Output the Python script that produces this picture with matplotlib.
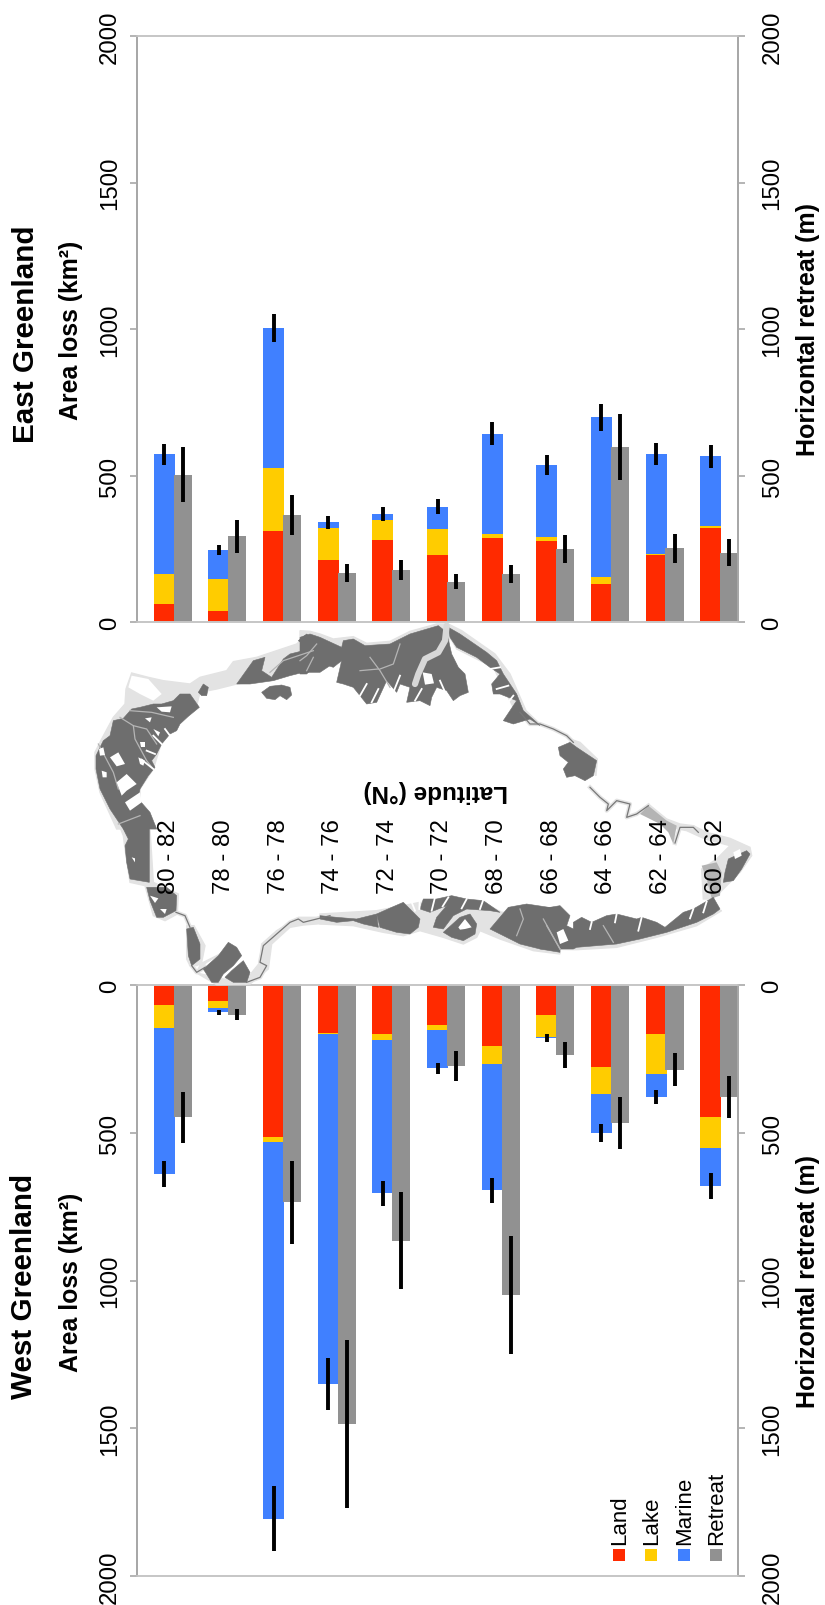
import matplotlib
matplotlib.use("Agg")
import matplotlib.pyplot as plt
from matplotlib.patches import Polygon, Rectangle

plt.rcParams['font.family'] = ['Liberation Sans', 'DejaVu Sans']

# bandas de latitud, de izquierda a derecha
latitudes = ['80 - 82', '78 - 80', '76 - 78', '74 - 76', '72 - 74', '70 - 72',
             '68 - 70', '66 - 68', '64 - 66', '62 - 64', '60 - 62']

# East Greenland
east_land = [61, 36, 311, 212, 280, 228, 286, 276, 131, 230, 320]
east_lake = [103, 112, 213, 108, 68, 91, 15, 14, 24, 3, 9]
east_marine = [408, 97, 479, 20, 22, 74, 341, 246, 543, 341, 236]
east_retreat = [503, 292, 365, 167, 178, 138, 164, 249, 596, 251, 237]
east_area_err = [35, 18, 48, 21, 24, 26, 39, 33, 45, 37, 40]
east_retreat_err = [95, 55, 68, 32, 34, 26, 30, 47, 113, 49, 45]

# West Greenland
west_land = [67, 53, 514, 162, 165, 134, 207, 100, 276, 165, 447]
west_lake = [77, 25, 16, 5, 22, 17, 61, 76, 94, 136, 106]
west_marine = [495, 14, 1276, 1183, 518, 131, 427, 3, 131, 77, 127]
west_retreat = [448, 100, 736, 1485, 865, 274, 1050, 237, 468, 286, 380]
west_area_err = [43, 8, 111, 87, 42, 18, 42, 13, 30, 24, 43]
west_retreat_err = [86, 20, 140, 285, 165, 52, 200, 45, 88, 55, 71]

y_ticks = [0, 500, 1000, 1500, 2000]
legend_names = ['Land', 'Lake', 'Marine', 'Retreat']
colores = ['#FF2A00', '#FFCC00', '#4080FF', '#919191']
gris_eje = '#A8A8A8'
gris_claro = '#C6C6C6'
DARK = '#6E6E6E'
LIGHT = '#E3E3E3'


# el mapa esta dibujado a mano, en coordenadas de recorte
def pts(x0, y0, lista):
    return [(x0 + a / 3, y0 + b / 3) for a, b in lista]


halo = [
    pts(90, 630, [(15, 370), (35, 330), (70, 265), (105, 225), (108, 180), (125, 132), (175, 145), (220, 155),
                  (300, 165), (330, 145), (410, 125), (430, 98), (500, 85), (620, 45), (660, 8), (720, 30),
                  (720, 100), (600, 125), (540, 150), (440, 165), (380, 180), (330, 190), (320, 230), (265, 280),
                  (215, 340), (190, 420), (150, 480), (150, 520), (200, 600), (80, 600), (30, 490), (15, 420)]),
    pts(300, 625, [(0, 20), (30, 22), (60, 30), (100, 45), (125, 42), (160, 38), (200, 58), (270, 52), (330, 22),
                   (410, 0), (445, 0), (485, 20), (585, 90), (630, 150), (678, 260), (720, 300), (690, 295),
                   (640, 250), (580, 130), (470, 75), (450, 40), (440, 100), (300, 100), (150, 120), (0, 100)]),
    pts(90, 820, [(80, 0), (178, 0), (190, 190), (265, 225), (262, 285), (225, 305), (190, 290), (165, 200),
                  (120, 190), (105, 90), (100, 50)]),
    pts(90, 820, [(290, 320), (312, 320), (345, 380), (335, 430), (320, 458), (350, 430), (400, 400), (320, 440),
                  (300, 440), (290, 420)]),
    pts(90, 820, [(510, 430), (515, 375), (560, 335), (625, 295), (680, 295), (720, 285), (720, 312), (640, 318),
                  (600, 325), (545, 375), (535, 450), (480, 495), (380, 497), (320, 462), (400, 480), (470, 480)]),
    pts(320, 870, [(0, 135), (170, 125), (250, 110), (300, 100), (490, 100), (545, 130), (560, 130), (720, 130),
                   (720, 255), (640, 245), (540, 210), (480, 185), (470, 205), (430, 225), (370, 205), (300, 185),
                   (250, 200), (190, 190), (100, 170), (0, 165)]),
    pts(540, 830, [(0, 300), (100, 300), (230, 300), (380, 300), (520, 240), (545, 245), (470, 290),
                   (350, 325), (230, 355), (110, 362), (0, 360)]),
    pts(520, 700, [(150, 120), (180, 130), (232, 180), (228, 230), (200, 200), (150, 150)]),
    pts(520, 700, [(385, 315), (440, 360), (480, 375), (520, 380), (560, 400), (630, 418), (690, 445),
                   (695, 470), (660, 520), (620, 560), (590, 590), (575, 600), (550, 600), (545, 510), (590, 480),
                   (630, 440), (555, 420), (500, 395), (450, 385), (385, 345)]),
]

gris_medio = [
    pts(520, 700, [(360, 345), (385, 320), (440, 365), (470, 380), (460, 435), (445, 400), (420, 375)]),
    pts(520, 700, [(545, 500), (590, 490), (605, 520), (600, 590), (575, 598), (560, 540)]),
]

oscuro = [
    # noroeste
    pts(90, 630, [(18, 380), (40, 335), (60, 320), (70, 275), (100, 268), (125, 240), (150, 235), (190, 225),
                  (215, 225), (250, 215), (270, 195), (300, 195), (328, 235), (295, 262), (270, 285), (260, 305),
                  (240, 315), (215, 345), (200, 375), (185, 395), (195, 415), (175, 440), (150, 480), (145, 510),
                  (180, 550), (200, 600), (100, 600), (60, 540), (30, 480), (18, 420)]),
    pts(90, 630, [(325, 190), (340, 165), (355, 175), (350, 200), (335, 200)]),
    pts(90, 630, [(515, 190), (540, 172), (575, 168), (600, 175), (605, 198), (590, 212), (570, 200), (555, 212),
                  (530, 208)]),
    pts(90, 630, [(440, 165), (490, 95), (525, 85), (515, 125), (545, 145), (580, 90), (600, 75), (660, 60),
                  (720, 40), (720, 110), (690, 130), (640, 130), (600, 140), (550, 155), (480, 165)]),
    pts(90, 630, [(625, 35), (650, 15), (665, 30), (645, 50)]),
    # norte
    pts(300, 625, [(0, 40), (30, 30), (60, 40), (125, 70), (130, 50), (160, 45), (195, 65), (270, 60), (330, 30),
                   (415, 5), (440, 25), (455, 90), (475, 130), (495, 150), (505, 205), (480, 215), (460, 230),
                   (440, 200), (410, 190), (395, 220), (390, 245), (360, 230), (320, 235), (330, 190), (300, 180),
                   (290, 205), (260, 170), (230, 235), (200, 240), (160, 190), (130, 180), (110, 175), (125, 110),
                   (100, 130), (70, 120), (45, 125), (20, 150), (0, 150)]),
    pts(300, 625, [(445, 10), (480, 30), (560, 85), (590, 110), (610, 150), (650, 210), (670, 260), (710, 295),
                   (720, 305), (690, 285), (640, 300), (610, 290), (630, 260), (650, 230), (600, 210), (580, 210),
                   (575, 180), (600, 150), (570, 130), (530, 100), (470, 70), (450, 40)]),
    # este
    pts(520, 700, [(115, 145), (150, 130), (170, 145), (230, 185), (220, 230), (195, 245), (165, 230), (140, 235),
                   (130, 210), (145, 190), (120, 170)]),
    pts(520, 700, [(625, 480), (680, 455), (690, 465), (665, 510), (640, 545), (610, 550), (615, 520)]),
    # oeste
    pts(90, 820, [(100, 0), (178, 0), (178, 190), (120, 180), (110, 130), (105, 80), (115, 60), (100, 30)]),
    pts(90, 820, [(170, 205), (230, 205), (260, 230), (258, 275), (220, 295), (200, 295), (180, 245)]),
    pts(90, 820, [(290, 330), (310, 325), (330, 375), (330, 420), (305, 440), (295, 410)]),
    pts(90, 820, [(340, 450), (385, 410), (415, 370), (440, 385), (455, 410), (430, 440), (400, 465), (385, 490),
                  (365, 490)]),
    pts(90, 820, [(405, 475), (425, 455), (460, 425), (480, 460), (470, 490), (430, 490)]),
    pts(320, 870, [(0, 140), (50, 145), (110, 150), (170, 135), (175, 175), (130, 165), (100, 155), (50, 160),
                   (0, 150)]),
    pts(320, 870, [(170, 135), (215, 115), (250, 100), (280, 130), (300, 150), (295, 175), (270, 195), (230, 190),
                   (180, 175)]),
    pts(320, 870, [(300, 120), (310, 90), (350, 90), (395, 80), (440, 90), (490, 95), (540, 130), (510, 125),
                   (440, 120), (400, 140), (370, 180), (340, 175), (350, 145), (380, 110), (330, 130)]),
    pts(320, 870, [(370, 190), (420, 145), (450, 135), (470, 165), (465, 195), (430, 215), (395, 205)]),
    pts(320, 870, [(510, 180), (565, 115), (620, 105), (720, 120), (720, 250), (660, 240), (600, 225), (540, 195)]),
    pts(540, 830, [(0, 240), (60, 230), (90, 260), (80, 290), (100, 300), (100, 280), (125, 265), (155, 280),
                   (200, 260), (230, 255), (290, 270), (305, 265), (350, 280), (375, 295), (430, 250), (460, 240),
                   (520, 205), (540, 240), (520, 255), (470, 280), (380, 310), (300, 330), (230, 345), (110, 355),
                   (100, 360), (0, 360)]),
]

blanco = [
    pts(90, 630, [(125, 140), (175, 150), (215, 195), (190, 215), (150, 195), (115, 175)]),
    pts(90, 630, [(200, 235), (245, 232), (240, 250), (215, 248)]),
    pts(90, 630, [(165, 268), (185, 265), (180, 280)]),
    pts(90, 630, [(150, 340), (165, 340), (165, 355), (152, 355)]),
    pts(90, 630, [(60, 385), (85, 370), (105, 405), (80, 412)]),
    pts(90, 630, [(27, 360), (40, 355), (45, 378), (30, 380)]),
    pts(90, 630, [(35, 425), (50, 430), (50, 445), (38, 445)]),
    pts(90, 630, [(80, 460), (110, 435), (140, 465), (110, 485), (95, 500)]),
    pts(90, 630, [(145, 385), (165, 395), (160, 410), (150, 405)]),
    pts(90, 630, [(190, 300), (210, 310), (205, 322)]),
    pts(90, 630, [(105, 520), (150, 490), (155, 520), (120, 545)]),
    pts(300, 625, [(368, 145), (395, 150), (402, 178), (375, 182)]),
    pts(320, 870, [(415, 175), (435, 150), (455, 175), (435, 180), (420, 182)]),
    pts(540, 830, [(50, 310), (70, 300), (85, 335), (60, 345)]),
    pts(520, 700, [(640, 460), (660, 450), (665, 470), (645, 480)]),
    pts(90, 820, [(125, 115), (135, 118), (135, 130)]),
    pts(90, 820, [(210, 270), (230, 270), (225, 285)]),
    pts(90, 820, [(180, 230), (205, 238), (195, 252)]),
]

# entradas de los fiordos, en blanco
fiordos = [
    pts(90, 630, [(240, 320), (225, 300)]), pts(90, 630, [(215, 345), (190, 320)]),
    pts(90, 630, [(195, 375), (170, 365)]), pts(90, 630, [(190, 420), (155, 392)]),
    pts(300, 625, [(215, 235), (235, 195)]), pts(300, 625, [(180, 215), (200, 180)]),
    pts(300, 625, [(345, 230), (365, 195)]), pts(300, 625, [(280, 205), (300, 155)]),
    pts(300, 625, [(440, 215), (420, 170)]), pts(300, 625, [(620, 240), (640, 215)]),
    pts(300, 625, [(590, 195), (625, 185)]), pts(300, 625, [(570, 135), (600, 130)]),
    pts(320, 870, [(265, 75), (285, 125)]), pts(320, 870, [(300, 75), (298, 120)]),
    pts(320, 870, [(345, 85), (335, 125)]), pts(320, 870, [(385, 85), (368, 112)]),
    pts(320, 870, [(440, 90), (425, 118)]), pts(320, 870, [(490, 92), (480, 120)]),
    pts(540, 830, [(230, 255), (225, 280)]), pts(540, 830, [(305, 265), (295, 305)]),
    pts(540, 830, [(460, 240), (450, 268)]), pts(540, 830, [(155, 280), (150, 300)]),
    pts(540, 830, [(500, 218), (490, 250)]),
]

canales = [
    pts(90, 630, [(90, 265), (130, 290), (170, 300), (200, 345)]),
    pts(90, 630, [(130, 290), (135, 330), (170, 395), (190, 420)]),
    pts(90, 630, [(120, 245), (185, 250), (250, 265)]),
    pts(90, 630, [(25, 345), (70, 430), (85, 480)]),
    pts(90, 630, [(85, 585), (150, 560)]),
    pts(90, 630, [(540, 130), (580, 95), (670, 65)]),
    pts(90, 630, [(650, 125), (670, 85)]),
    pts(300, 625, [(210, 100), (240, 140), (270, 190)]),
    pts(300, 625, [(300, 60), (280, 120), (240, 135)]),
    pts(300, 625, [(50, 60), (20, 95), (0, 110)]),
    pts(300, 625, [(180, 140), (235, 135)]),
    pts(320, 870, [(600, 120), (610, 150), (590, 200)]),
    pts(320, 870, [(670, 150), (720, 240)]),
    pts(540, 830, [(190, 290), (220, 340)]),
    pts(540, 830, [(20, 290), (60, 360)]),
]
canal_ancho = pts(300, 625, [(440, 5), (435, 50), (415, 85), (375, 105), (355, 150), (345, 180)])

costa = [
    pts(520, 700, [(0, 40), (30, 75), (60, 75), (100, 90), (140, 110), (160, 130)]),
    pts(520, 700, [(210, 265), (240, 295), (265, 315), (260, 335), (290, 305), (330, 315), (320, 355), (350, 345),
                   (385, 320)]),
    pts(520, 700, [(465, 432), (480, 385), (520, 385), (535, 400)]),
    pts(90, 820, [(258, 280), (285, 290), (300, 325)]),
    pts(90, 820, [(470, 490), (510, 475), (530, 440), (510, 430), (520, 380), (560, 345), (600, 310), (625, 300),
                  (640, 310), (680, 300), (720, 290)]),
    pts(90, 820, [(305, 440), (320, 460), (345, 445)]),
]

fig = plt.figure(figsize=(8.25, 16.06), dpi=100)
W, H = 825.0, 1606.0


def hacer_panel(top, bottom, invertido, land, lake, marine, retreat, area_err, retreat_err):
    ax = fig.add_axes([137 / W, 1 - bottom / H, (738 - 137) / W, (bottom - top) / H])
    x = list(range(len(latitudes)))
    x2 = [i + 0.338 for i in x]
    base_marine = [a + b for a, b in zip(land, lake)]
    total = [a + b for a, b in zip(base_marine, marine)]
    ax.bar(x, land, 0.385, color=colores[0], zorder=2)
    ax.bar(x, lake, 0.385, bottom=land, color=colores[1], zorder=2)
    ax.bar(x, marine, 0.385, bottom=base_marine, color=colores[2], zorder=2)
    ax.bar(x2, retreat, 0.33, color=colores[3], zorder=2)
    ax.errorbar(x, total, yerr=area_err, fmt='none', ecolor='black', elinewidth=2.8, zorder=3)
    ax.errorbar(x2, retreat, yerr=retreat_err, fmt='none', ecolor='black', elinewidth=2.8, zorder=3)
    ax.set_xlim(-0.5, 10.5)
    limites = (2000, 0) if invertido else (0, 2000)
    ax.set_ylim(*limites)
    ax.set_xticks([])
    ax.set_yticks(y_ticks)

    # eje derecho aparte, con otra separacion de las etiquetas
    ax2 = ax.twinx()
    ax2.set_ylim(*limites)
    ax2.set_yticks(y_ticks)
    for a, pad in ((ax, 6.5), (ax2, 12)):
        a.spines['left'].set_color(gris_eje)
        a.spines['right'].set_color(gris_eje)
        a.spines['left'].set_linewidth(1.3)
        a.spines['right'].set_linewidth(1.3)
        a.spines['top'].set_color(gris_claro)
        a.spines['bottom'].set_color(gris_claro)
        a.spines['top'].set_linewidth(1.2)
        a.spines['bottom'].set_linewidth(1.2)
        a.tick_params(axis='y', length=5, width=1.2, color=gris_eje, labelsize=17.3, pad=pad,
                      labelrotation=90)
        for t in a.get_yticklabels():
            t.set_verticalalignment('center')
    return ax


ax_e = hacer_panel(37, 623, False, east_land, east_lake, east_marine, east_retreat, east_area_err, east_retreat_err)
ax_w = hacer_panel(986, 1577, True, west_land, west_lake, west_marine, west_retreat, west_area_err, west_retreat_err)

# capa en pixeles para el mapa, la leyenda y los titulos
over = fig.add_axes([0, 0, 1, 1], zorder=5)
over.set_xlim(0, W)
over.set_ylim(H, 0)
over.axis('off')
over.patch.set_alpha(0)

for p in halo:
    over.add_patch(Polygon(p, closed=True, fc=LIGHT, ec=LIGHT, lw=1, zorder=1))
for p in gris_medio:
    over.add_patch(Polygon(p, closed=True, fc='#B4B4B4', ec='none', zorder=1.5))
for p in oscuro:
    over.add_patch(Polygon(p, closed=True, fc=DARK, ec=DARK, lw=0.4, zorder=2))
for c in canales:
    over.plot(*zip(*c), color='#B5B5B5', lw=0.9, zorder=3)
over.plot(*zip(*canal_ancho), color='#D8D8D8', lw=4.5, solid_capstyle='round', zorder=3)
for p in blanco:
    over.add_patch(Polygon(p, closed=True, fc='white', ec='none', zorder=4))
for c in fiordos:
    over.plot(*zip(*c), color='white', lw=1.3, zorder=4)
for c in costa:
    over.plot(*zip(*c), color=LIGHT, lw=3, zorder=1)
    over.plot(*zip(*c), color='#777777', lw=0.9, zorder=2)

for i, lat in enumerate(latitudes):
    xpos = 137 + (i + 0.5) * (738 - 137) / 11 + 5
    over.text(xpos, 857, lat, rotation=90, ha='center', va='center', fontsize=17.3, zorder=6)
over.text(436, 792, 'Latitude (°N)', rotation=180, ha='center', va='center', fontsize=17.5,
          fontweight='bold', zorder=6)

over.text(26, 334, 'East Greenland', rotation=90, ha='center', va='center', fontsize=21.3, fontweight='bold')
over.text(71, 330, 'Area loss (km²)', rotation=90, ha='center', va='center', fontsize=17.9, fontweight='bold')
over.text(808, 329, 'Horizontal retreat (m)', rotation=90, ha='center', va='center', fontsize=18, fontweight='bold')
over.text(24, 1286, 'West Greenland', rotation=90, ha='center', va='center', fontsize=21.3, fontweight='bold')
over.text(71, 1282, 'Area loss (km²)', rotation=90, ha='center', va='center', fontsize=17.9, fontweight='bold')
over.text(808, 1282, 'Horizontal retreat (m)', rotation=90, ha='center', va='center', fontsize=18, fontweight='bold')

# leyenda
legend_x = [619, 651, 684, 716]
for xl, nombre, col in zip(legend_x, legend_names, colores):
    over.add_patch(Rectangle((xl - 6, 1550), 12, 12, fc=col, ec='none'))
    over.text(xl + 1, 1545, nombre, rotation=90, ha='center', va='bottom', fontsize=16)

fig.savefig('out.png', dpi=100)
